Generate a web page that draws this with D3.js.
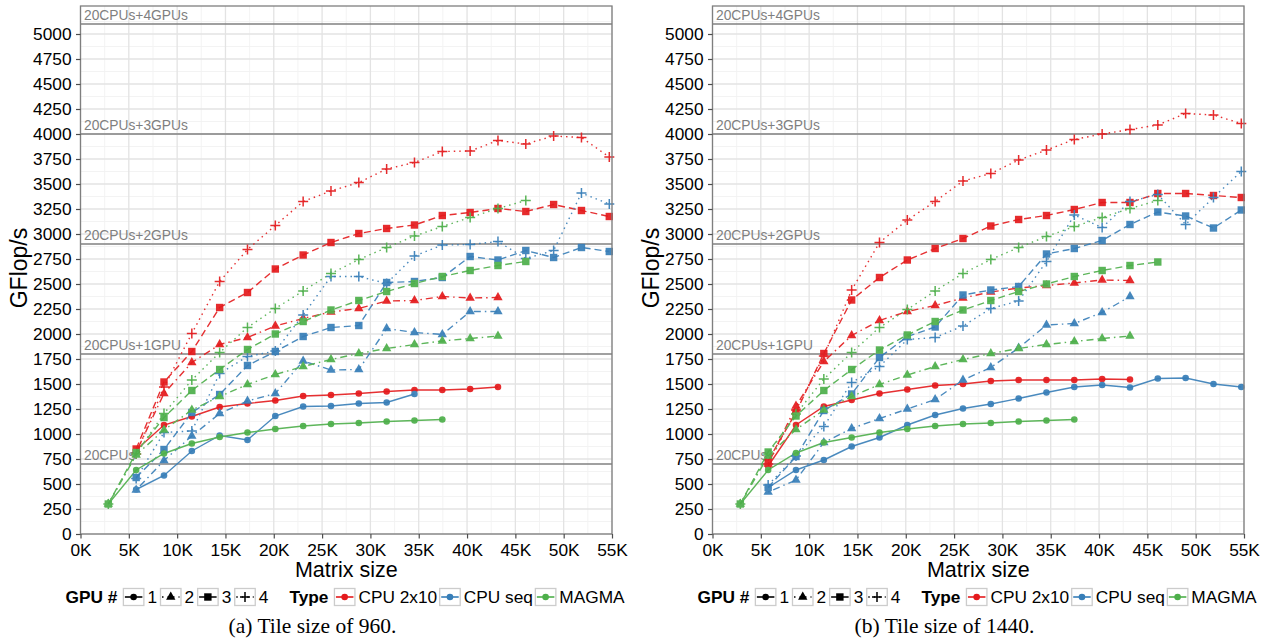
<!DOCTYPE html>
<html>
<head>
<meta charset="utf-8">
<script src="https://cdn.jsdelivr.net/npm/d3@7"></script>
<style>
  body { margin: 0; background: #fff; }
  text { font-family: "Liberation Sans", Arial, sans-serif; }
</style>
</head>
<body>
<svg id="chart" width="1272" height="642"></svg>
<script>
// matrix sizes (x) shared by both panels
var matrixSizes = [2880, 5760, 8640, 11520, 14400, 17280, 20160, 23040, 25920, 28800,
                   31680, 34560, 37440, 40320, 43200, 46080, 48960, 51840, 54720];

// (a) tile size 960, GFlop/s
var t960_cpu2x10_1 = [null, 840, 1090, 1175, 1270, 1305, 1335, 1380, 1390, 1405, 1425, 1440, 1440, 1450, 1470];
var t960_cpu2x10_2 = [null, 820, 1405, 1715, 1895, 1965, 2080, 2155, 2220, 2255, 2330, 2335, 2375, 2360, 2365];
var t960_cpu2x10_3 = [null, 850, 1520, 1825, 2265, 2415, 2650, 2790, 2915, 3005, 3055, 3090, 3185, 3215, 3255, 3225, 3295, 3235, 3175];
var t960_cpu2x10_4 = [null, 800, 1470, 2005, 2525, 2845, 3085, 3325, 3430, 3515, 3650, 3715, 3825, 3830, 3935, 3900, 3980, 3965, 3770];
var t960_cpuseq_1 = [null, 445, 585, 830, 985, 940, 1180, 1275, 1280, 1305, 1315, 1400];
var t960_cpuseq_2 = [null, 440, 735, 980, 1205, 1330, 1405, 1730, 1640, 1645, 2055, 2015, 1995, 2225, 2225];
var t960_cpuseq_3 = [null, 565, 845, 1215, 1395, 1685, 1825, 1975, 2065, 2085, 2515, 2525, 2565, 2775, 2740, 2835, 2765, 2865, 2825];
var t960_cpuseq_4 = [null, 555, 1015, 1030, 1605, 1775, 1830, 2190, 2575, 2575, 2505, 2780, 2890, 2895, 2925, 2755, 2835, 3410, 3300];
var t960_magma_1 = [300, 640, 805, 905, 970, 1015, 1050, 1080, 1100, 1110, 1125, 1135, 1145];
var t960_magma_2 = [300, 790, 1040, 1240, 1375, 1495, 1595, 1675, 1745, 1805, 1855, 1895, 1930, 1955, 1980];
var t960_magma_3 = [300, 815, 1165, 1435, 1645, 1845, 2000, 2125, 2240, 2335, 2425, 2505, 2575, 2635, 2685, 2725];
var t960_magma_4 = [300, 800, 1205, 1540, 1815, 2065, 2255, 2430, 2605, 2745, 2865, 2980, 3075, 3165, 3255, 3335];

// (b) tile size 1440, GFlop/s
var t1440_cpu2x10_1 = [null, 680, 1090, 1275, 1340, 1405, 1445, 1485, 1500, 1530, 1540, 1540, 1540, 1550, 1545];
var t1440_cpu2x10_2 = [null, 700, 1280, 1725, 1985, 2135, 2225, 2285, 2360, 2420, 2460, 2485, 2510, 2540, 2535];
var t1440_cpu2x10_3 = [null, 735, 1215, 1805, 2340, 2565, 2740, 2855, 2955, 3080, 3145, 3185, 3245, 3315, 3315, 3405, 3405, 3385, 3365];
var t1440_cpu2x10_4 = [null, 700, 1240, 1780, 2440, 2915, 3140, 3325, 3530, 3605, 3740, 3840, 3945, 4000, 4045, 4090, 4205, 4190, 4105];
var t1440_cpuseq_1 = [null, 465, 640, 740, 875, 965, 1090, 1190, 1255, 1300, 1355, 1415, 1470, 1490, 1465, 1555, 1560, 1500, 1470];
var t1440_cpuseq_2 = [null, 420, 540, 915, 1055, 1155, 1250, 1345, 1540, 1665, 1860, 2090, 2105, 2215, 2375];
var t1440_cpuseq_3 = [null, 465, 775, 1235, 1400, 1765, 1975, 2070, 2390, 2440, 2475, 2800, 2855, 2935, 3095, 3220, 3180, 3060, 3240];
var t1440_cpuseq_4 = [null, 490, 780, 1075, 1515, 1675, 1945, 1965, 2080, 2255, 2330, 2725, 3190, 3065, 3325, 3395, 3095, 3365, 3625];
var t1440_magma_1 = [300, 640, 810, 915, 965, 1015, 1050, 1080, 1100, 1110, 1125, 1135, 1145];
var t1440_magma_2 = [300, 780, 1045, 1240, 1375, 1495, 1590, 1675, 1745, 1805, 1855, 1895, 1925, 1955, 1980];
var t1440_magma_3 = [300, 820, 1180, 1435, 1645, 1840, 1990, 2125, 2240, 2335, 2425, 2500, 2575, 2635, 2685, 2720];
var t1440_magma_4 = [300, 800, 1200, 1550, 1815, 2065, 2245, 2430, 2605, 2745, 2865, 2975, 3075, 3165, 3255, 3335];

var types = ['CPU 2x10', 'CPU seq', 'MAGMA'];
var typeColors = ['#E41A1C', '#377EB8', '#4DAF4A'];
var gpuCounts = ['1', '2', '3', '4'];
var gpuDash = [null, '1.5,4,7,4', '7,4', '1.5,4'];

var limitValues = [700, 1800, 2900, 4000, 5100];
var limitLabels = ['20CPUs', '20CPUs+1GPU', '20CPUs+2GPUs', '20CPUs+3GPUs', '20CPUs+4GPUs'];

var yTicks = d3.range(0, 5001, 250);
var xTicks = d3.range(0, 55001, 5000);

var panels = [
  { x0: 80.5, caption: '(a) Tile size of 960.',
    series: [t960_cpu2x10_1, t960_cpu2x10_2, t960_cpu2x10_3, t960_cpu2x10_4,
             t960_cpuseq_1, t960_cpuseq_2, t960_cpuseq_3, t960_cpuseq_4,
             t960_magma_1, t960_magma_2, t960_magma_3, t960_magma_4] },
  { x0: 712.5, caption: '(b) Tile size of 1440.',
    series: [t1440_cpu2x10_1, t1440_cpu2x10_2, t1440_cpu2x10_3, t1440_cpu2x10_4,
             t1440_cpuseq_1, t1440_cpuseq_2, t1440_cpuseq_3, t1440_cpuseq_4,
             t1440_magma_1, t1440_magma_2, t1440_magma_3, t1440_magma_4] }
];

var W = 531.5;
var svg = d3.select('#chart');
var y = d3.scaleLinear().domain([0, 5280]).range([534, 6]);

function drawShape(g, gpu, cx, cy, color) {
  if (gpu == 0) {
    g.append('circle').attr('cx', cx).attr('cy', cy).attr('r', 3.3).attr('fill', color);
  } else if (gpu == 1) {
    g.append('path').attr('transform', 'translate(' + cx + ',' + cy + ')')
      .attr('d', d3.symbol().type(d3.symbolTriangle).size(38)()).attr('fill', color);
  } else if (gpu == 2) {
    g.append('rect').attr('x', cx - 3.7).attr('y', cy - 3.7).attr('width', 7.4).attr('height', 7.4).attr('fill', color);
  } else {
    g.append('path').attr('d', 'M' + (cx - 5) + ',' + cy + 'h10M' + cx + ',' + (cy - 5) + 'v10')
      .attr('stroke', color).attr('stroke-width', 1.5).attr('fill', 'none');
  }
}

panels.forEach(function(p) {
  var x = d3.scaleLinear().domain([0, 55000]).range([p.x0, p.x0 + W]);
  var g = svg.append('g');

  g.append('rect').attr('x', p.x0).attr('y', 6).attr('width', W).attr('height', 528).attr('fill', '#fff');

  // grid
  g.append('g').selectAll('line').data(d3.range(2500, 55000, 5000)).enter().append('line')
    .attr('x1', function(d) { return x(d); }).attr('x2', function(d) { return x(d); })
    .attr('y1', 6).attr('y2', 534).attr('stroke', '#f2f2f2').attr('stroke-width', 0.9);
  g.append('g').selectAll('line').data(d3.range(125, 5280, 250)).enter().append('line')
    .attr('x1', p.x0).attr('x2', p.x0 + W)
    .attr('y1', function(d) { return y(d); }).attr('y2', function(d) { return y(d); })
    .attr('stroke', '#f2f2f2').attr('stroke-width', 0.9);
  g.append('g').selectAll('line').data(xTicks).enter().append('line')
    .attr('x1', function(d) { return x(d); }).attr('x2', function(d) { return x(d); })
    .attr('y1', 6).attr('y2', 534).attr('stroke', '#e3e3e3').attr('stroke-width', 1.3);
  g.append('g').selectAll('line').data(yTicks).enter().append('line')
    .attr('x1', p.x0).attr('x2', p.x0 + W)
    .attr('y1', function(d) { return y(d); }).attr('y2', function(d) { return y(d); })
    .attr('stroke', '#e3e3e3').attr('stroke-width', 1.3);

  // hardware limits
  limitValues.forEach(function(v, i) {
    g.append('line').attr('x1', p.x0).attr('x2', p.x0 + W).attr('y1', y(v)).attr('y2', y(v))
      .attr('stroke', '#808080').attr('stroke-width', 1.5);
    g.append('text').attr('x', p.x0 + 3.5).attr('y', y(v) - 4).attr('fill', '#7f7f7f')
      .style('font-size', '13.8px').text(limitLabels[i]);
  });

  // series
  var line = d3.line()
    .defined(function(d) { return d[1] != null; })
    .x(function(d) { return x(d[0]); })
    .y(function(d) { return y(d[1]); });

  var lines = g.append('g').attr('opacity', 0.9);
  var points = g.append('g').attr('opacity', 0.92);
  p.series.forEach(function(vals, k) {
    var t = Math.floor(k / 4), gpu = k % 4;
    var pts = vals.map(function(v, i) { return [matrixSizes[i], v]; });
    lines.append('path').attr('d', line(pts)).attr('fill', 'none')
      .attr('stroke', typeColors[t]).attr('stroke-width', 1.4)
      .attr('stroke-dasharray', gpuDash[gpu]);
    pts.forEach(function(d) {
      if (d[1] != null) drawShape(points, gpu, x(d[0]), y(d[1]), typeColors[t]);
    });
  });

  g.append('rect').attr('x', p.x0).attr('y', 6).attr('width', W).attr('height', 528)
    .attr('fill', 'none').attr('stroke', '#7f7f7f').attr('stroke-width', 1.3);

  // axes
  var ax = g.append('g').attr('transform', 'translate(' + p.x0 + ',0)')
    .call(d3.axisLeft(y).tickValues(yTicks).tickSize(4.5).tickPadding(4.5).tickFormat(d3.format('d')));
  var bx = g.append('g').attr('transform', 'translate(0,534)')
    .call(d3.axisBottom(x).tickValues(xTicks).tickSize(4.5).tickPadding(5)
      .tickFormat(function(d) { return (d / 1000) + 'K'; }));
  [ax, bx].forEach(function(a) {
    a.select('.domain').remove();
    a.selectAll('.tick line').attr('stroke', '#4d4d4d').attr('stroke-width', 1.2);
    a.selectAll('.tick text').attr('fill', '#000').style('font-size', '17.3px')
      .style('font-family', '"Liberation Sans", Arial, sans-serif');
  });

  // titles
  g.append('text').attr('transform', 'translate(' + (p.x0 - 54) + ',268) rotate(-90)')
    .attr('text-anchor', 'middle').style('font-size', '23px').text('GFlop/s');
  g.append('text').attr('x', p.x0 + W / 2).attr('y', 577).attr('text-anchor', 'middle')
    .style('font-size', '21.5px').text('Matrix size');

  // legend
  var lg = g.append('g');
  var cx = p.x0 - 15, cy = 597;
  function key(drawIn) {
    lg.append('rect').attr('x', cx).attr('y', cy - 8.5).attr('width', 20.5).attr('height', 17)
      .attr('fill', '#fff').attr('stroke', '#cccccc').attr('stroke-width', 1.3);
    drawIn(cx, cy);
    cx += 20.5 + 3.5;
  }
  function label(str, bold, gap) {
    var t = lg.append('text').attr('x', cx).attr('y', cy + 6).style('font-size', '17.3px').text(str);
    if (bold) t.style('font-weight', 'bold');
    cx += t.node().getComputedTextLength() + gap;
  }
  label('GPU #', true, 6);
  gpuCounts.forEach(function(c, i) {
    key(function(kx, ky) {
      lg.append('line').attr('x1', kx + 1.5).attr('x2', kx + 19).attr('y1', ky).attr('y2', ky)
        .attr('stroke', '#000').attr('stroke-width', 1.6).attr('stroke-dasharray', gpuDash[i]);
      drawShape(lg, i, kx + 10.25, ky, '#000');
    });
    label(c, false, i == 3 ? 21 : 3.5);
  });
  label('Type', true, 6);
  types.forEach(function(tp, i) {
    key(function(kx, ky) {
      lg.append('line').attr('x1', kx + 1.5).attr('x2', kx + 19).attr('y1', ky).attr('y2', ky)
        .attr('stroke', typeColors[i]).attr('stroke-width', 1.6);
      drawShape(lg, 0, kx + 10.25, ky, typeColors[i]);
    });
    label(tp, false, 2.5);
  });

  g.append('text').attr('x', p.x0 + 232).attr('y', 633).attr('text-anchor', 'middle')
    .style('font-family', '"Liberation Serif", "Times New Roman", serif').style('font-size', '21.5px')
    .text(p.caption);
});
</script>
</body>
</html>
